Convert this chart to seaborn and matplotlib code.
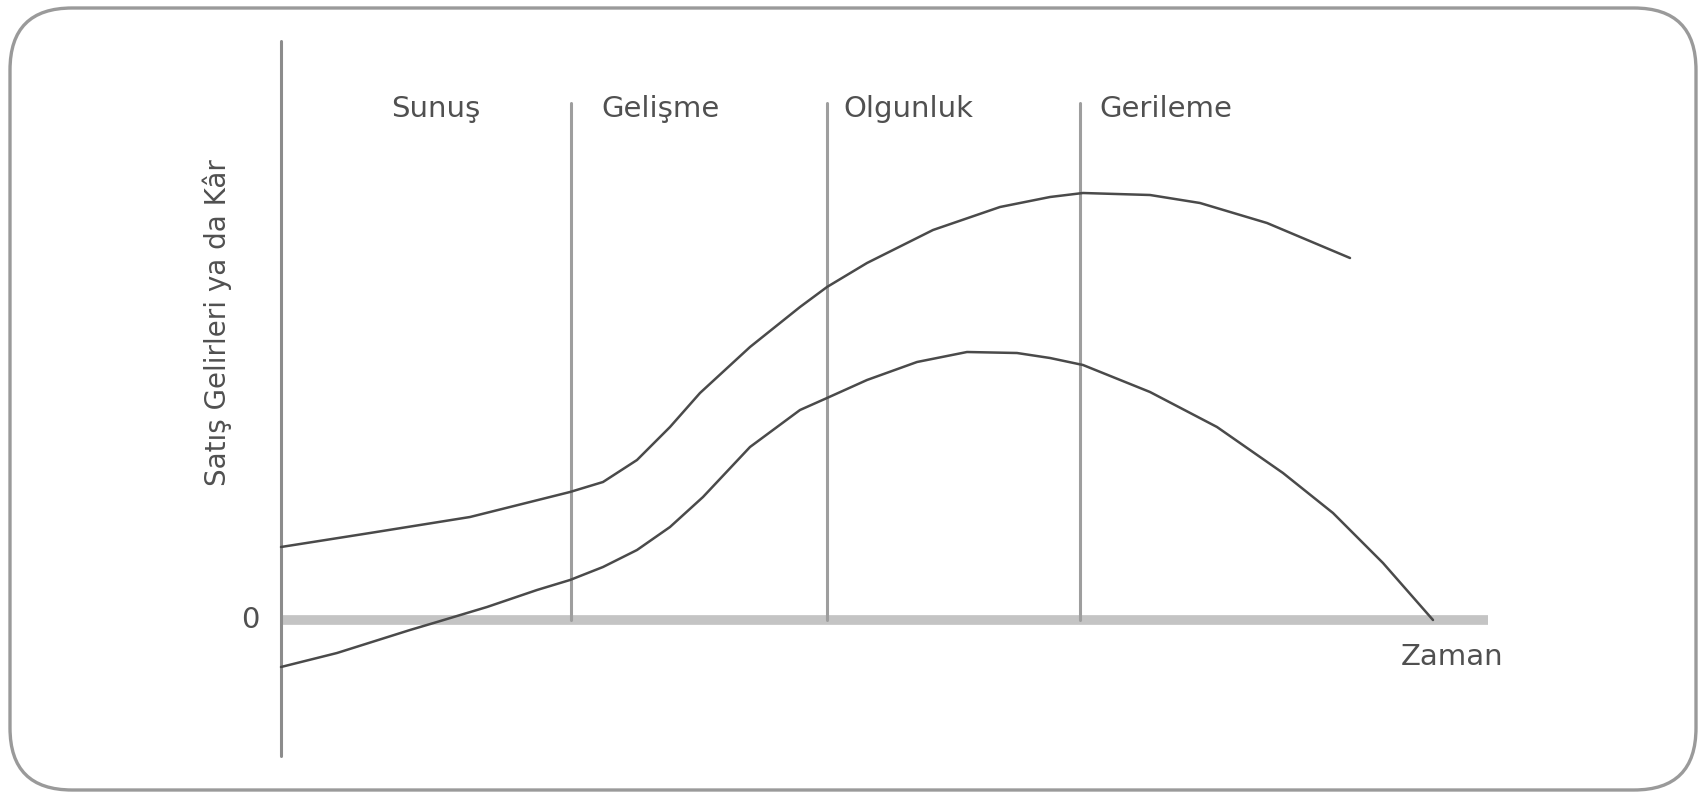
import matplotlib
matplotlib.use('Agg')
import matplotlib.pyplot as plt
from matplotlib.patches import FancyBboxPatch
from matplotlib.transforms import IdentityTransform
import pandas as pd
import seaborn as sns

# data (time, value)
upper_x = [0, 0.89, 1.89, 2.49, 2.89, 3.22, 3.56, 3.89, 4.19, 4.69, 5.19, 5.46,
           5.86, 6.52, 7.19, 7.69, 8.02, 8.69, 9.19, 9.86, 10.69]
upper_y = [0.73, 0.87, 1.03, 1.18, 1.28, 1.38, 1.60, 1.93, 2.27, 2.73, 3.13, 3.33,
           3.57, 3.90, 4.13, 4.23, 4.27, 4.25, 4.17, 3.97, 3.62]
lower_x = [0, 0.56, 1.29, 1.56, 2.06, 2.56, 2.89, 3.22, 3.56, 3.89, 4.22, 4.69, 5.19,
           5.46, 5.86, 6.36, 6.86, 7.36, 7.69, 8.02, 8.69, 9.36, 10.02, 10.52, 11.02, 11.52]
lower_y = [-0.47, -0.33, -0.10, -0.02, 0.13, 0.30, 0.40, 0.53, 0.70, 0.93, 1.23, 1.73, 2.10,
           2.22, 2.40, 2.58, 2.68, 2.67, 2.62, 2.55, 2.28, 1.93, 1.47, 1.07, 0.57, 0.0]

phases = ['Sunuş', 'Gelişme', 'Olgunluk', 'Gerileme']
phase_bounds = [2.90, 5.46, 7.99]
ylabel = 'Satış Gelirleri ya da Kâr'
xlabel = 'Zaman'

sns.set_theme(style='white')
plt.rcParams['font.family'] = ['DejaVu Sans']

fig = plt.figure(figsize=(17.06, 7.92), dpi=100)
ax = fig.add_axes([0, 0, 1, 1])
ax.set_xlim(-2.81, 14.25)
ax.set_ylim(-1.72, 6.20)

# rounded frame (pixel coords)
frame = FancyBboxPatch((10, 2), 1686, 782,
                       boxstyle='round,pad=0,rounding_size=62',
                       transform=IdentityTransform(), fill=False,
                       edgecolor='#9a9a9a', linewidth=2.4)
fig.patches.append(frame)

# axes lines
ax.plot([0, 12.07], [0, 0], color='#c4c4c4', lw=7, solid_capstyle='butt', zorder=1)
ax.plot([0, 0], [-1.36, 5.79], color='#8c8c8c', lw=2.2, zorder=2)
for b in phase_bounds:
    ax.plot([b, b], [0, 5.17], color='#9e9e9e', lw=2.2, zorder=2)

df_up = pd.DataFrame({'t': upper_x, 'v': upper_y})
df_lo = pd.DataFrame({'t': lower_x, 'v': lower_y})
sns.lineplot(data=df_up, x='t', y='v', ax=ax, color='#4a4a4a', lw=1.8, sort=False,
             estimator=None, zorder=3)
sns.lineplot(data=df_lo, x='t', y='v', ax=ax, color='#4a4a4a', lw=1.8, sort=False,
             estimator=None, zorder=3)
ax.axis('off')

# phase labels
txt_kw = dict(fontsize=21, color='#505050')
ax.text(1.55, 5.11, phases[0], ha='center', va='center', **txt_kw)
for b, off, name in zip(phase_bounds, [0.30, 0.16, 0.19], phases[1:]):
    ax.text(b + off, 5.11, name, ha='left', va='center', **txt_kw)

ax.text(-0.31, 0.0, '0', ha='center', va='center', **txt_kw)
ax.text(11.20, -0.37, xlabel, ha='left', va='center', **txt_kw)
ax.text(-0.64, 2.97, ylabel, ha='center', va='center', rotation=90,
        fontsize=20, color='#505050')

fig.savefig('out.png', dpi=100)
